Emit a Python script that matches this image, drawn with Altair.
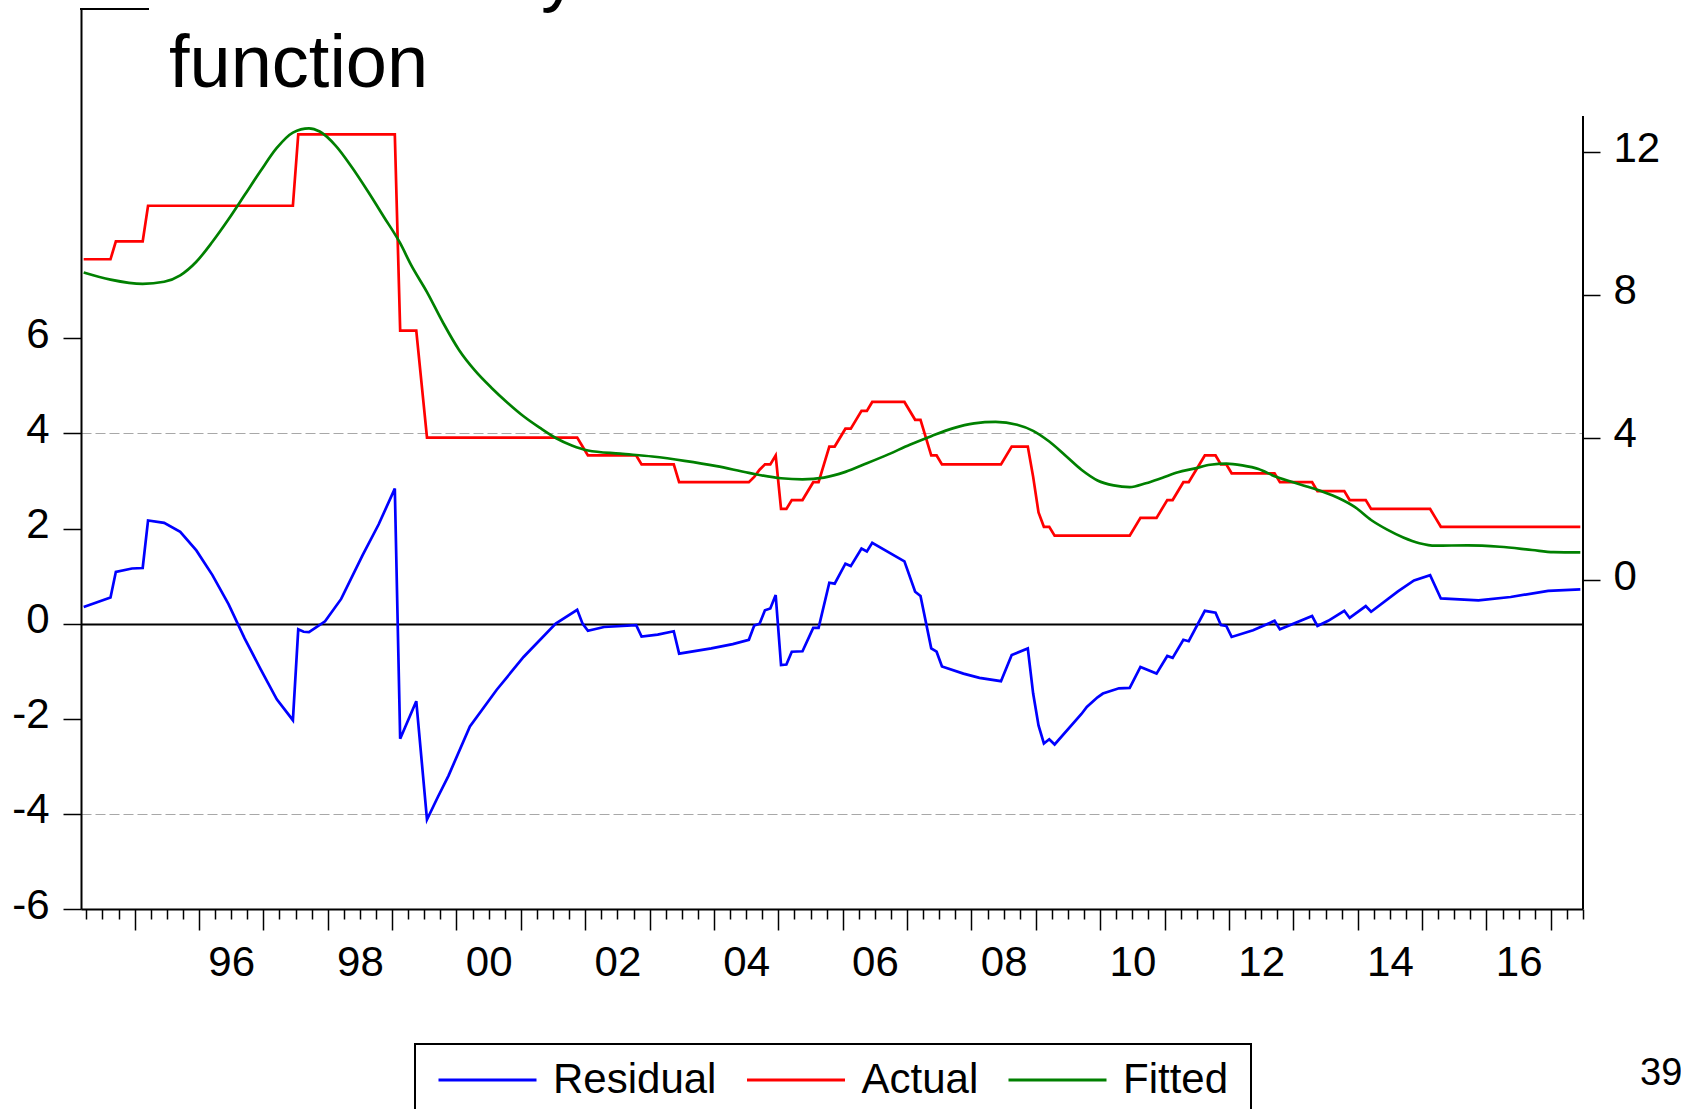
import altair as alt
import pandas as pd

# ---- series, monthly observations (YYYY-MM) ----
resid_months = [
    "1994-03", "1994-08", "1994-09", "1994-12", "1995-02", "1995-03", "1995-06", "1995-09",
    "1995-12", "1996-03", "1996-06", "1996-09", "1996-12", "1997-03", "1997-06", "1997-07",
    "1997-08", "1997-09", "1997-12", "1998-03", "1998-07", "1998-10", "1999-01", "1999-02",
    "1999-05", "1999-07", "1999-09", "1999-11", "2000-03", "2000-08", "2001-01", "2001-07",
    "2001-11", "2001-12", "2002-01", "2002-04", "2002-10", "2002-11", "2003-02", "2003-05",
    "2003-06", "2003-12", "2004-04", "2004-07", "2004-08", "2004-09", "2004-10", "2004-11",
    "2004-12", "2005-01", "2005-02", "2005-03", "2005-05", "2005-07", "2005-08", "2005-10",
    "2005-11", "2006-01", "2006-02", "2006-04", "2006-05", "2006-06", "2006-12", "2007-02",
    "2007-03", "2007-05", "2007-06", "2007-07", "2007-11", "2008-02", "2008-06", "2008-08",
    "2008-11", "2008-12", "2009-01", "2009-02", "2009-03", "2009-04", "2009-09", "2009-10",
    "2009-12", "2010-01", "2010-04", "2010-06", "2010-08", "2010-11", "2011-01", "2011-02",
    "2011-04", "2011-05", "2011-08", "2011-10", "2011-11", "2011-12", "2012-01", "2012-05",
    "2012-09", "2012-10", "2013-04", "2013-05", "2013-07", "2013-10", "2013-11", "2014-02",
    "2014-03", "2014-08", "2014-11", "2015-02", "2015-04", "2015-11", "2016-05", "2016-12",
    "2017-06",
]
resid_values = [
    0.35, 0.55, 1.09, 1.16, 1.17, 2.17, 2.12, 1.93,
    1.54, 1.02, 0.41, -0.31, -0.96, -1.59, -2.03, -0.12,
    -0.17, -0.18, 0.05, 0.52, 1.44, 2.09, 2.84, -2.42,
    -1.63, -4.12, -3.65, -3.20, -2.16, -1.39, -0.70, 0.00,
    0.29, 0.00, -0.15, -0.07, -0.03, -0.27, -0.23, -0.16,
    -0.63, -0.52, -0.43, -0.34, -0.04, 0.00, 0.28, 0.32,
    0.60, -0.87, -0.86, -0.59, -0.58, -0.09, -0.09, 0.86,
    0.84, 1.26, 1.21, 1.58, 1.52, 1.70, 1.31, 0.67,
    0.58, -0.52, -0.59, -0.90, -1.05, -1.14, -1.21, -0.66,
    -0.52, -1.47, -2.14, -2.52, -2.43, -2.54, -1.90, -1.75,
    -1.55, -1.47, -1.36, -1.35, -0.91, -1.05, -0.68, -0.72,
    -0.34, -0.37, 0.27, 0.23, -0.03, -0.05, -0.28, -0.14,
    0.06, -0.12, 0.16, -0.05, 0.06, 0.27, 0.12, 0.37,
    0.25, 0.68, 0.91, 1.02, 0.53, 0.49, 0.56, 0.69,
    0.72,
]

actual_months = [
    "1994-03", "1994-08", "1994-09", "1995-02", "1995-03", "1997-06", "1997-07", "1999-01",
    "1999-02", "1999-05", "1999-06", "1999-07", "2001-11", "2001-12", "2002-01", "2002-10",
    "2002-11", "2003-05", "2003-06", "2004-07", "2004-08", "2004-09", "2004-10", "2004-11",
    "2004-12", "2005-01", "2005-02", "2005-03", "2005-05", "2005-07", "2005-08", "2005-10",
    "2005-11", "2006-01", "2006-02", "2006-04", "2006-05", "2006-06", "2006-12", "2007-02",
    "2007-03", "2007-05", "2007-06", "2007-07", "2008-06", "2008-08", "2008-11", "2008-12",
    "2009-01", "2009-02", "2009-03", "2009-04", "2010-06", "2010-08", "2010-11", "2011-01",
    "2011-02", "2011-04", "2011-05", "2011-08", "2011-10", "2011-11", "2011-12", "2012-01",
    "2012-09", "2012-10", "2013-04", "2013-05", "2013-10", "2013-11", "2014-02", "2014-03",
    "2015-02", "2015-03", "2015-04", "2017-06",
]
actual_values = [
    9.0, 9.0, 9.5, 9.5, 10.5, 10.5, 12.5, 12.5,
    7.0, 7.0, 5.5, 4.0, 4.0, 3.75, 3.5, 3.5,
    3.25, 3.25, 2.75, 2.75, 2.9, 3.1, 3.25, 3.25,
    3.5, 2.0, 2.0, 2.25, 2.25, 2.75, 2.75, 3.75,
    3.75, 4.25, 4.25, 4.75, 4.75, 5.0, 5.0, 4.5,
    4.5, 3.5, 3.5, 3.25, 3.25, 3.75, 3.75, 2.9,
    1.9, 1.5, 1.5, 1.25, 1.25, 1.75, 1.75, 2.25,
    2.25, 2.75, 2.75, 3.5, 3.5, 3.25, 3.25, 3.0,
    3.0, 2.75, 2.75, 2.5, 2.5, 2.25, 2.25, 2.0,
    2.0, 1.75, 1.5, 1.5,
]

fitted_months = [
    "1994-03", "1994-08", "1995-02", "1995-06", "1995-09", "1995-12", "1996-03", "1996-06",
    "1996-09", "1996-12", "1997-03", "1997-06", "1997-09", "1997-11", "1998-02", "1998-05",
    "1998-08", "1998-11", "1999-02", "1999-04", "1999-07", "1999-10", "2000-01", "2000-04",
    "2000-07", "2000-10", "2001-01", "2001-04", "2001-07", "2001-10", "2002-01", "2002-07",
    "2003-01", "2003-07", "2004-01", "2004-07", "2005-01", "2005-05", "2005-09", "2006-01",
    "2006-05", "2006-09", "2007-01", "2007-05", "2007-09", "2008-01", "2008-05", "2008-09",
    "2008-12", "2009-03", "2009-06", "2009-09", "2009-12", "2010-03", "2010-06", "2010-09",
    "2010-12", "2011-03", "2011-06", "2011-09", "2011-12", "2012-03", "2012-06", "2012-09",
    "2012-12", "2013-03", "2013-06", "2013-09", "2013-12", "2014-03", "2014-06", "2014-09",
    "2014-12", "2015-03", "2015-09", "2016-03", "2016-09", "2017-01", "2017-06",
]
fitted_values = [
    8.63, 8.43, 8.31, 8.37, 8.55, 8.93, 9.49, 10.12,
    10.80, 11.48, 12.12, 12.55, 12.67, 12.58, 12.18, 11.58,
    10.90, 10.18, 9.45, 8.85, 8.08, 7.22, 6.45, 5.87,
    5.40, 4.98, 4.60, 4.28, 3.99, 3.78, 3.64, 3.55,
    3.47, 3.35, 3.20, 3.01, 2.86, 2.83, 2.88, 3.04,
    3.28, 3.53, 3.80, 4.04, 4.26, 4.40, 4.44, 4.36,
    4.19, 3.89, 3.50, 3.10, 2.80, 2.66, 2.61, 2.72,
    2.87, 3.03, 3.13, 3.24, 3.27, 3.22, 3.12, 2.92,
    2.77, 2.63, 2.48, 2.30, 2.05, 1.69, 1.42, 1.20,
    1.04, 0.97, 0.98, 0.94, 0.85, 0.79, 0.78,
]

series_names = ["Residual", "Actual", "Fitted"]
series_colors = ["#0000ff", "#ff0000", "#008000"]

title_lines = ["Monetary", "function"]
page_number = "39"


def to_year(months):
    """Mid-month position of each observation in decimal years."""
    out = []
    for m in months:
        y, mo = m.split("-")
        out.append(int(y) + (int(mo) - 0.5) / 12.0)
    return out


resid_df = pd.DataFrame({"t": to_year(resid_months), "value": resid_values, "series": "Residual"})
actual_df = pd.DataFrame({"t": to_year(actual_months), "value": actual_values, "series": "Actual"})
fitted_df = pd.DataFrame({"t": to_year(fitted_months), "value": fitted_values, "series": "Fitted"})

FONT = "Liberation Sans"
W, H = 1502, 900

# ---- scales ----
x_scale = alt.Scale(domain=[1994 + 2 / 12.0, 2017.5], nice=False, zero=False)
left_scale = alt.Scale(domain=[-6, 12.924], nice=False, zero=False)
right_scale = alt.Scale(domain=[-9.215, 16.016], nice=False, zero=False)
color_scale = alt.Scale(domain=series_names, range=series_colors)

# quarterly ticks, long ones at the start of each year, labels every second year
quarter_ticks = [1994.25 + 0.25 * i for i in range(94)]

x_axis = alt.Axis(
    values=quarter_ticks,
    tickSize={"condition": {"test": "datum.value % 1 === 0", "value": 21}, "value": 10},
    tickWidth=1.5,
    tickColor="black",
    domainColor="black",
    domainWidth=2,
    labelExpr="datum.value % 2 === 0 ? slice(toString(datum.value), 2) : ''",
    labelOffset=32.2,
    labelPadding=12,
    labelFont=FONT,
    labelFontSize=42,
    labelColor="black",
    labelOverlap=False,
    labelFlush=False,
    grid=False,
    title=None,
)

left_axis = alt.Axis(
    orient="left",
    values=[-6, -4, -2, 0, 2, 4, 6],
    labelExpr="toString(datum.value)",
    tickSize=18,
    tickWidth=1.5,
    tickColor="black",
    domainColor="black",
    domainWidth=2,
    labelFont=FONT,
    labelFontSize=42,
    labelColor="black",
    labelPadding=14,
    labelOffset=-4,
    grid=True,
    gridColor={"condition": {"test": "datum.value === 0", "value": "black"}, "value": "#a8a8a8"},
    gridWidth={"condition": {"test": "datum.value === 0", "value": 2}, "value": 1.2},
    gridDash={"condition": {"test": "datum.value === 0", "value": []}, "value": [10, 4]},
    gridOpacity={
        "condition": {"test": "abs(datum.value) === 4 || datum.value === 0", "value": 1},
        "value": 0,
    },
    title=None,
)

right_axis = alt.Axis(
    orient="right",
    values=[0, 4, 8, 12],
    tickSize=17,
    tickWidth=1.5,
    tickColor="black",
    domain=False,
    labelFont=FONT,
    labelFontSize=42,
    labelColor="black",
    labelPadding=13,
    labelOffset=-4,
    grid=False,
    title=None,
)

legend = alt.Legend(
    title=None,
    orient="none",
    legendX=334,
    legendY=1035,
    direction="horizontal",
    symbolType="stroke",
    symbolSize=9604,
    symbolStrokeWidth=3,
    padding=22,
    clipHeight=28,
    labelOffset=15,
    columnPadding=28.5,
    labelFont=FONT,
    labelFontSize=42,
    labelColor="black",
    labelLimit=400,
    labelBaseline="middle",
    strokeColor="black",
)

color = alt.Color("series:N", scale=color_scale, legend=legend)
x_enc = alt.X("t:Q", scale=x_scale, axis=x_axis)

# residual: monthly polyline with sharp corners
resid_layer = alt.Chart(resid_df).mark_line(strokeWidth=2.7).encode(
    x=x_enc,
    y=alt.Y("value:Q", scale=left_scale, axis=left_axis),
    color=color,
)

rate_y = alt.Y("value:Q", scale=right_scale, axis=right_axis)
actual_layer = alt.Chart(actual_df).mark_line(strokeWidth=2.7).encode(
    x=x_enc, y=rate_y, color=color
)
fitted_layer = alt.Chart(fitted_df).mark_line(strokeWidth=2.7, interpolate="monotone").encode(
    x=x_enc, y=rate_y, color=color
)
rate_layers = alt.layer(actual_layer, fitted_layer)

one_row = pd.DataFrame({"k": [0]})

# right-hand spine (starts below the title block) and top-left frame piece
right_spine = alt.Chart(one_row).mark_rule(color="black", strokeWidth=2).encode(
    x=alt.value(W), y=alt.value(107), y2=alt.value(H)
)
top_frame = alt.Chart(one_row).mark_rule(color="black", strokeWidth=2).encode(
    x=alt.value(-1), x2=alt.value(68), y=alt.value(0)
)

title_top = alt.Chart(pd.DataFrame({"text": [title_lines[0]]})).mark_text(
    font=FONT, fontSize=74, align="right", baseline="alphabetic", color="black",
).encode(x=alt.value(497), y=alt.value(-11.5), text="text:N")

title_bottom = alt.Chart(pd.DataFrame({"text": [title_lines[1]]})).mark_text(
    font=FONT, fontSize=74, align="left", baseline="alphabetic", color="black",
).encode(x=alt.value(88), y=alt.value(78), text="text:N")

page_layer = alt.Chart(pd.DataFrame({"text": [page_number]})).mark_text(
    font=FONT, fontSize=38, align="left", baseline="alphabetic", color="black",
).encode(x=alt.value(1559), y=alt.value(1076), text="text:N")

chart = (
    alt.layer(
        resid_layer, rate_layers, right_spine, top_frame, title_top, title_bottom, page_layer
    )
    .resolve_scale(y="independent")
    .properties(
        width=W,
        height=H,
        padding={"left": 81, "top": 9, "right": 98, "bottom": 200},
        autosize=alt.AutoSizeParams(type="none"),
        background="white",
    )
    .configure_view(stroke="transparent")
    .configure_legend(strokeWidth=2)
)

chart.save("out.html", embed_options={"renderer": "svg", "actions": False})
